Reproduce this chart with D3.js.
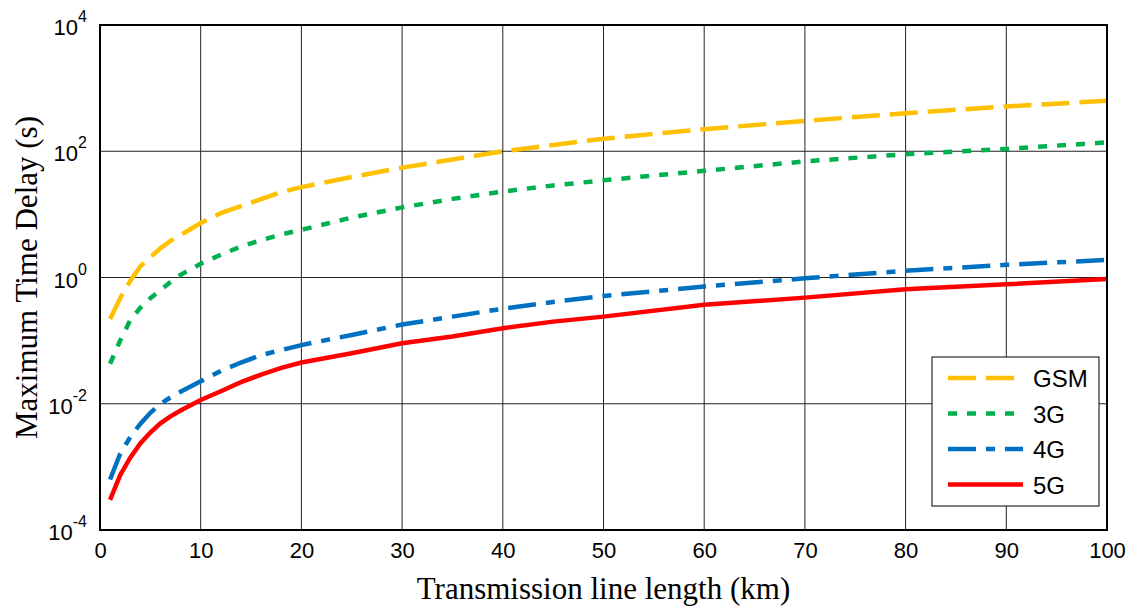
<!DOCTYPE html>
<html>
<head>
<meta charset="utf-8">
<script src="https://cdn.jsdelivr.net/npm/d3@7"></script>
<style>
  body { margin: 0; background: #fff; }
  svg { display: block; }
</style>
</head>
<body>
<svg></svg>
<script>
// values (x = km, y = seconds)
var xKm      = [1, 2, 3, 4, 5, 6, 7, 8, 10, 12, 14, 16, 18, 20, 25, 30, 35, 40, 45, 50, 60, 70, 80, 90, 100]
var gsmDelay = [0.22, 0.47, 0.88, 1.5, 2.1, 2.9, 3.8, 4.7, 7.3, 10.5, 13.5, 17.5, 22.5, 27, 39, 55, 74, 100, 126, 158, 224, 302, 400, 513, 630]
var g3Delay  = [0.043, 0.10, 0.21, 0.33, 0.47, 0.63, 0.85, 1.1, 1.65, 2.3, 3.1, 3.9, 4.8, 5.7, 8.9, 12.9, 17.6, 23, 28.7, 34.6, 49, 69, 90, 109, 138]
var g4Delay  = [0.00063, 0.0016, 0.00295, 0.0048, 0.0072, 0.010, 0.0126, 0.0155, 0.0227, 0.033, 0.045, 0.059, 0.071, 0.085, 0.123, 0.18, 0.24, 0.32, 0.41, 0.51, 0.72, 0.97, 1.28, 1.59, 1.9]
var g5Delay  = [0.0003, 0.00074, 0.0014, 0.00235, 0.0035, 0.0049, 0.0063, 0.0078, 0.0115, 0.0158, 0.022, 0.029, 0.037, 0.045, 0.063, 0.091, 0.116, 0.157, 0.2, 0.24, 0.37, 0.48, 0.65, 0.78, 0.95]

var seriesNames = ["GSM", "3G", "4G", "5G"]
var xTicks = [0, 10, 20, 30, 40, 50, 60, 70, 80, 90, 100]
var yExp   = [-4, -2, 0, 2, 4]

var screen  = {width: 1137, height: 609}
var margins = {top: 25, right: 30, bottom: 79, left: 100}
var width  = screen.width - margins.left - margins.right
var height = screen.height - margins.top - margins.bottom

var series = [
    {name: seriesNames[0], vals: gsmDelay, color: "#FFC000", dash: "28,10"},
    {name: seriesNames[1], vals: g3Delay,  color: "#00B050", dash: "9,10"},
    {name: seriesNames[2], vals: g4Delay,  color: "#0070C0", dash: "28,10,9,10"},
    {name: seriesNames[3], vals: g5Delay,  color: "#FF0000", dash: null}
]

var svg = d3.select("svg")
    .attr("width", screen.width)
    .attr("height", screen.height)

var xScale = d3.scaleLinear().domain([0, 100]).range([0, width])
var yScale = d3.scaleLog().domain([1e-4, 1e4]).range([height, 0])

var graph = svg.append("g")
    .attr("id", "graph")
    .attr("transform", "translate(" + margins.left + "," + margins.top + ")")

// grid lines, matlab style solid thin
graph.append("g").attr("class", "grid")
    .selectAll("line.gx")
    .data(xTicks.slice(1, -1))
    .enter().append("line")
    .attr("x1", function(d){return xScale(d)})
    .attr("x2", function(d){return xScale(d)})
    .attr("y1", 0).attr("y2", height)
    .attr("stroke", "#222").attr("stroke-width", 1)

graph.append("g").attr("class", "grid")
    .selectAll("line.gy")
    .data(yExp.slice(1, -1))
    .enter().append("line")
    .attr("x1", 0).attr("x2", width)
    .attr("y1", function(e){return yScale(Math.pow(10, e))})
    .attr("y2", function(e){return yScale(Math.pow(10, e))})
    .attr("stroke", "#222").attr("stroke-width", 1)

// axes (labels done by hand below for the y superscripts)
graph.append("g")
    .attr("transform", "translate(0," + height + ")")
    .call(d3.axisBottom(xScale).tickValues(xTicks).tickSize(0).tickPadding(12))
    .call(function(g){
        g.select(".domain").remove()
        g.selectAll("text")
            .attr("font-family", "Liberation Sans, Arial, sans-serif")
            .attr("font-size", 22)
            .attr("fill", "#000")
    })

var yLabels = graph.append("g").attr("class", "ylabels")
    .selectAll("text")
    .data(yExp)
    .enter().append("text")
    .attr("x", -13)
    .attr("y", function(e){return yScale(Math.pow(10, e)) + 10})
    .attr("text-anchor", "end")
    .attr("font-family", "Liberation Sans, Arial, sans-serif")
    .attr("font-size", 22)
    .attr("fill", "#000")
yLabels.append("tspan").text("10")
yLabels.append("tspan")
    .attr("dy", -13)
    .attr("font-size", 16)
    .text(function(e){return e})

// lines
var lineGen = d3.line()
    .x(function(d, i){return xScale(xKm[i])})
    .y(function(d){return yScale(d)})

graph.selectAll("path.series")
    .data(series)
    .enter().append("path")
    .attr("class", "series")
    .attr("d", function(s){return lineGen(s.vals)})
    .attr("fill", "none")
    .attr("stroke", function(s){return s.color})
    .attr("stroke-width", 4.5)
    .attr("stroke-dasharray", function(s){return s.dash})

// box round the plot
graph.append("rect")
    .attr("width", width).attr("height", height)
    .attr("fill", "none").attr("stroke", "#000").attr("stroke-width", 2)

// legend
var legend = svg.append("g").attr("id", "legend")
    .attr("transform", "translate(932,357)")
legend.append("rect")
    .attr("width", 167).attr("height", 149)
    .attr("fill", "#fff").attr("stroke", "#000").attr("stroke-width", 1)

var items = legend.selectAll("g.item")
    .data(series)
    .enter().append("g")
    .attr("class", "item")
    .attr("transform", function(s, i){return "translate(0," + (21 + i * 35.5) + ")"})
items.append("line")
    .attr("x1", 16).attr("x2", 91)
    .attr("stroke", function(s){return s.color})
    .attr("stroke-width", 4.5)
    .attr("stroke-dasharray", function(s){return s.dash})
items.append("text")
    .attr("x", 101).attr("y", 9)
    .attr("font-family", "Liberation Sans, Arial, sans-serif")
    .attr("font-size", 24)
    .text(function(s){return s.name})

// axis titles
svg.append("text")
    .attr("x", margins.left + width / 2)
    .attr("y", 599)
    .attr("text-anchor", "middle")
    .attr("font-family", "Liberation Serif, Times New Roman, serif")
    .attr("font-size", 31)
    .text("Transmission line length (km)")

svg.append("text")
    .attr("transform", "translate(37," + (margins.top + height / 2) + ") rotate(-90)")
    .attr("text-anchor", "middle")
    .attr("font-family", "Liberation Serif, Times New Roman, serif")
    .attr("font-size", 31)
    .text("Maximum Time Delay (s)")
</script>
</body>
</html>
